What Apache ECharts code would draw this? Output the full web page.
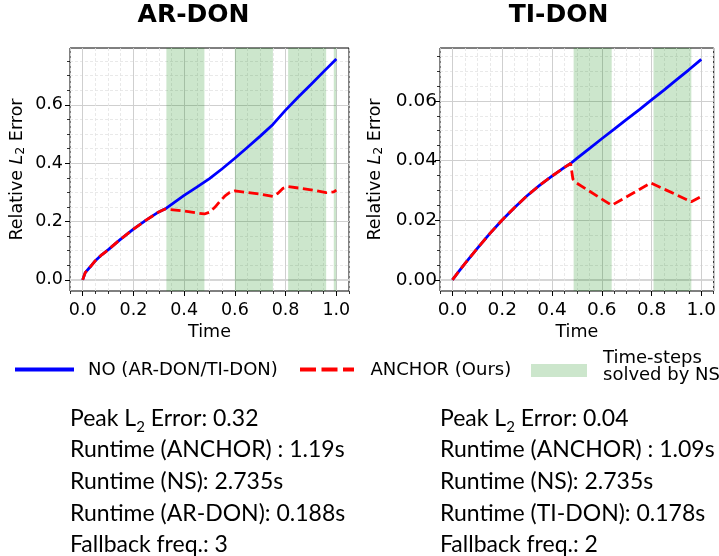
<!DOCTYPE html>
<html>
<head>
<meta charset="utf-8">
<script src="https://cdn.jsdelivr.net/npm/echarts@6/dist/echarts.min.js"></script>
<style>
  html, body { margin: 0; padding: 0; background: #fff; }
  #chart { width: 719px; height: 556px; }
</style>
</head>
<body>
<div id="chart"></div>
<script>
// ---- AR-DON panel ----
const arTime = [0, 0.01, 0.03, 0.05, 0.075, 0.1, 0.15, 0.2, 0.25, 0.3, 0.33, 0.4, 0.45, 0.5, 0.55, 0.6, 0.65, 0.7, 0.75, 0.8, 0.85, 0.9, 0.95, 1.0];
const arNO = [0, 0.025, 0.045, 0.066, 0.086, 0.103, 0.140, 0.174, 0.205, 0.233, 0.246, 0.290, 0.318, 0.347, 0.381, 0.417, 0.455, 0.493, 0.533, 0.582, 0.627, 0.670, 0.714, 0.757];
const arAnchorTime = [0, 0.01, 0.03, 0.05, 0.075, 0.1, 0.15, 0.2, 0.25, 0.3, 0.325, 0.33, 0.4, 0.48, 0.5, 0.52, 0.54, 0.56, 0.58, 0.6, 0.7, 0.75, 0.77, 0.79, 0.81, 0.9, 0.96, 0.99, 1.0];
const arAnchor = [0, 0.025, 0.045, 0.066, 0.086, 0.103, 0.140, 0.174, 0.205, 0.233, 0.243, 0.242, 0.236, 0.226, 0.232, 0.248, 0.268, 0.287, 0.300, 0.305, 0.294, 0.286, 0.297, 0.314, 0.320, 0.309, 0.299, 0.302, 0.308];
const arBandStart = [0.33, 0.60, 0.81, 0.99];
const arBandEnd = [0.48, 0.75, 0.96, 1.0];

// ---- TI-DON panel ----
const tiTime = [0, 0.025, 0.05, 0.1, 0.15, 0.2, 0.25, 0.3, 0.35, 0.4, 0.45, 0.475, 0.5, 0.55, 0.6, 0.65, 0.7, 0.75, 0.8, 0.85, 0.9, 0.95, 1.0];
const tiNO = [0, 0.0028, 0.0055, 0.0106, 0.0155, 0.0201, 0.0243, 0.0282, 0.0317, 0.0348, 0.0377, 0.0390, 0.0407, 0.0440, 0.0473, 0.0505, 0.0538, 0.0570, 0.0603, 0.0636, 0.0670, 0.0704, 0.0739];
const tiAnchorTime = [0, 0.025, 0.05, 0.1, 0.15, 0.2, 0.25, 0.3, 0.35, 0.4, 0.45, 0.475, 0.484, 0.5, 0.64, 0.797, 0.96, 1.0];
const tiAnchor = [0, 0.0028, 0.0055, 0.0106, 0.0155, 0.0201, 0.0243, 0.0282, 0.0317, 0.0348, 0.0377, 0.0390, 0.0338, 0.0324, 0.0250, 0.0325, 0.0262, 0.0280];
const tiBandStart = [0.487, 0.808];
const tiBandEnd = [0.64, 0.96];

// ---- ticks ----
const timeTicks = [0, 0.2, 0.4, 0.6, 0.8, 1.0];
const timeMinorTicks = [-0.05, 0.05, 0.1, 0.15, 0.25, 0.3, 0.35, 0.45, 0.5, 0.55, 0.65, 0.7, 0.75, 0.85, 0.9, 0.95, 1.05];
const arErrTicks = [0, 0.2, 0.4, 0.6];
const arErrMinorTicks = [0.05, 0.1, 0.15, 0.25, 0.3, 0.35, 0.45, 0.5, 0.55, 0.65, 0.7, 0.75];
const tiErrTicks = [0, 0.02, 0.04, 0.06];
const tiErrMinorTicks = [0.005, 0.01, 0.015, 0.025, 0.03, 0.035, 0.045, 0.05, 0.055, 0.065, 0.07, 0.075];

// ---- text ----
const panelTitles = ['AR-DON', 'TI-DON'];
const legendLabels = ['NO (AR-DON/TI-DON)', 'ANCHOR (Ours)', 'Time-steps\nsolved by NS'];
const arStats = ['Peak L{s|2} Error: 0.32', 'Runtime (ANCHOR) : 1.19s', 'Runtime (NS): 2.735s', 'Runtime (AR-DON): 0.188s', 'Fallback freq.: 3'];
const tiStats = ['Peak L{s|2} Error: 0.04', 'Runtime (ANCHOR) : 1.09s', 'Runtime (NS): 2.735s', 'Runtime (TI-DON): 0.178s', 'Fallback freq.: 2'];

const BLUE = '#0000ff';
const RED = '#ff0000';
const BAND = 'rgba(0,128,0,0.2)';
const FONT = 'DejaVu Sans';
const MAJOR_GRID = '#cfcfcf';
const MINOR_GRID = '#e3e3e3';

const pairs = (xs, ys) => xs.map((x, i) => [x, ys[i]]);

const panels = [
  { left: 70, width: 279, yMin: -0.038, yMax: 0.795, yTicks: arErrTicks, yMinor: arErrMinorTicks, digits: 1,
    yLabelMargin: 7, yNameGap: 43, time: arTime, no: arNO, aTime: arAnchorTime, anchor: arAnchor,
    bandStart: arBandStart, bandEnd: arBandEnd, fs: 17.5 },
  { left: 440, width: 281, yMin: -0.0037, yMax: 0.0777, yTicks: tiErrTicks, yMinor: tiErrMinorTicks, digits: 2,
    yLabelMargin: 3, yNameGap: 55, time: tiTime, no: tiNO, aTime: tiAnchorTime, anchor: tiAnchor,
    bandStart: tiBandStart, bandEnd: tiBandEnd, fs: 18.5 }
];

const grids = [], xAxes = [], yAxes = [], series = [];

panels.forEach((p, g) => {
  grids.push({ left: p.left, top: 48, width: p.width, height: 243, show: true,
    borderColor: '#000', borderWidth: 1, backgroundColor: 'transparent' });

  // major time axis
  xAxes.push({
    type: 'value', gridIndex: g, position: 'bottom', min: -0.05, max: 1.05,
    name: 'Time', nameLocation: 'middle', nameGap: 31,
    nameTextStyle: { fontFamily: FONT, fontSize: 17.5, color: '#000', lineHeight: 20 },
    axisLine: { show: false, onZero: false },
    axisTick: { show: true, customValues: timeTicks, length: 5, lineStyle: { color: '#000', width: 1 } },
    axisLabel: { customValues: timeTicks, formatter: v => v.toFixed(1), margin: 10,
      fontFamily: FONT, fontSize: p.fs, color: '#000' },
    splitLine: { show: true, lineStyle: { color: MAJOR_GRID, width: 1 } }
  });
  // minor time axis
  xAxes.push({
    type: 'value', gridIndex: g, position: 'bottom', min: -0.05, max: 1.05,
    axisLine: { show: false, onZero: false },
    axisTick: { show: true, customValues: timeMinorTicks, length: 3, lineStyle: { color: '#000', width: 0.8 } },
    axisLabel: { show: false },
    splitLine: { show: true, lineStyle: { color: MINOR_GRID, width: 0.8, type: [3, 2] } }
  });

  // major error axis
  yAxes.push({
    type: 'value', gridIndex: g, position: 'left', min: p.yMin, max: p.yMax,
    name: 'Relative {it|L}{sub|2} Error', nameLocation: 'middle', nameGap: p.yNameGap,
    nameTextStyle: { fontFamily: FONT, fontSize: 17.5, color: '#000', lineHeight: 20,
      rich: {
        it: { fontFamily: FONT, fontSize: 17.5, fontStyle: 'italic', color: '#000', lineHeight: 20 },
        sub: { fontFamily: FONT, fontSize: 12.5, color: '#000', lineHeight: 8, verticalAlign: 'bottom' }
      } },
    axisLine: { show: false, onZero: false },
    axisTick: { show: true, customValues: p.yTicks, length: 5, lineStyle: { color: '#000', width: 1 } },
    axisLabel: { customValues: p.yTicks, formatter: v => v.toFixed(p.digits), margin: p.yLabelMargin,
      fontFamily: FONT, fontSize: p.fs, color: '#000' },
    splitLine: { show: true, lineStyle: { color: MAJOR_GRID, width: 1 } }
  });
  // minor error axis
  yAxes.push({
    type: 'value', gridIndex: g, position: 'left', min: p.yMin, max: p.yMax,
    axisLine: { show: false, onZero: false },
    axisTick: { show: true, customValues: p.yMinor, length: 3, lineStyle: { color: '#000', width: 0.8 } },
    axisLabel: { show: false },
    splitLine: { show: true, lineStyle: { color: MINOR_GRID, width: 0.8, type: [3, 2] } }
  });
  // zero reference line
  yAxes.push({
    type: 'value', gridIndex: g, position: 'left', min: p.yMin, max: p.yMax,
    axisLine: { show: false, onZero: false },
    axisTick: { show: false, customValues: [0] },
    axisLabel: { show: false },
    splitLine: { show: true, lineStyle: { color: '#d6d6d6', width: 2.2 } }
  });

  const xi = 2 * g, yi = 3 * g;
  series.push({
    name: 'NO', type: 'line', xAxisIndex: xi, yAxisIndex: yi, z: 2,
    data: pairs(p.time, p.no), showSymbol: false, symbol: 'none',
    lineStyle: { color: BLUE, width: 2.8 },
    markArea: {
      silent: true,
      itemStyle: { color: BAND },
      data: p.bandStart.map((s, i) => [{ xAxis: s }, { xAxis: p.bandEnd[i] }])
    }
  });
  series.push({
    name: 'ANCHOR', type: 'line', xAxisIndex: xi, yAxisIndex: yi, z: 3,
    data: pairs(p.aTime, p.anchor), showSymbol: false, symbol: 'none',
    lineStyle: { color: RED, width: 2.8, type: [10, 4.5] }
  });
});

// legend row and statistics
const graphics = [
  { type: 'line', shape: { x1: 15, y1: 369.5, x2: 74, y2: 369.5 }, style: { stroke: BLUE, lineWidth: 4 } },
  { type: 'text', x: 88, y: 370, style: { text: legendLabels[0], fontFamily: FONT, fontSize: 18, fill: '#000', verticalAlign: 'middle' } },
  { type: 'line', shape: { x1: 300, y1: 369.5, x2: 354, y2: 369.5 }, style: { stroke: RED, lineWidth: 4, lineDash: [16, 5.5] } },
  { type: 'text', x: 370.5, y: 370, style: { text: legendLabels[1], fontFamily: FONT, fontSize: 18, fill: '#000', verticalAlign: 'middle' } },
  { type: 'rect', shape: { x: 531, y: 364, width: 56, height: 13 }, style: { fill: BAND } },
  { type: 'text', x: 603, y: 366.5, style: { text: legendLabels[2], fontFamily: FONT, fontSize: 18, lineHeight: 17, fill: '#000', verticalAlign: 'middle' } }
];

const statStyle = (lines) => ({
  text: lines.join('\n'),
  fontFamily: 'Lato', fontSize: 23, lineHeight: 31.6, fill: '#000', verticalAlign: 'top',
  rich: { s: { fontFamily: 'Lato', fontSize: 15, lineHeight: 12.4, verticalAlign: 'bottom', fill: '#000' } }
});
graphics.push({ type: 'text', x: 70, y: 402.6, style: statStyle(arStats) });
graphics.push({ type: 'text', x: 440, y: 402.6, style: statStyle(tiStats) });

const chart = echarts.init(document.getElementById('chart'), null, { renderer: 'canvas' });
chart.setOption({
  animation: false,
  backgroundColor: '#fff',
  title: panelTitles.map((t, i) => ({
    text: t, left: i === 0 ? 193.5 : 558.5, top: 3, padding: 0,
    textAlign: 'center', textVerticalAlign: 'top',
    textStyle: { fontFamily: FONT, fontWeight: 'bold', fontSize: 25, color: '#000' }
  })),
  grid: grids,
  xAxis: xAxes,
  yAxis: yAxes,
  series: series,
  graphic: graphics
});
</script>
</body>
</html>
